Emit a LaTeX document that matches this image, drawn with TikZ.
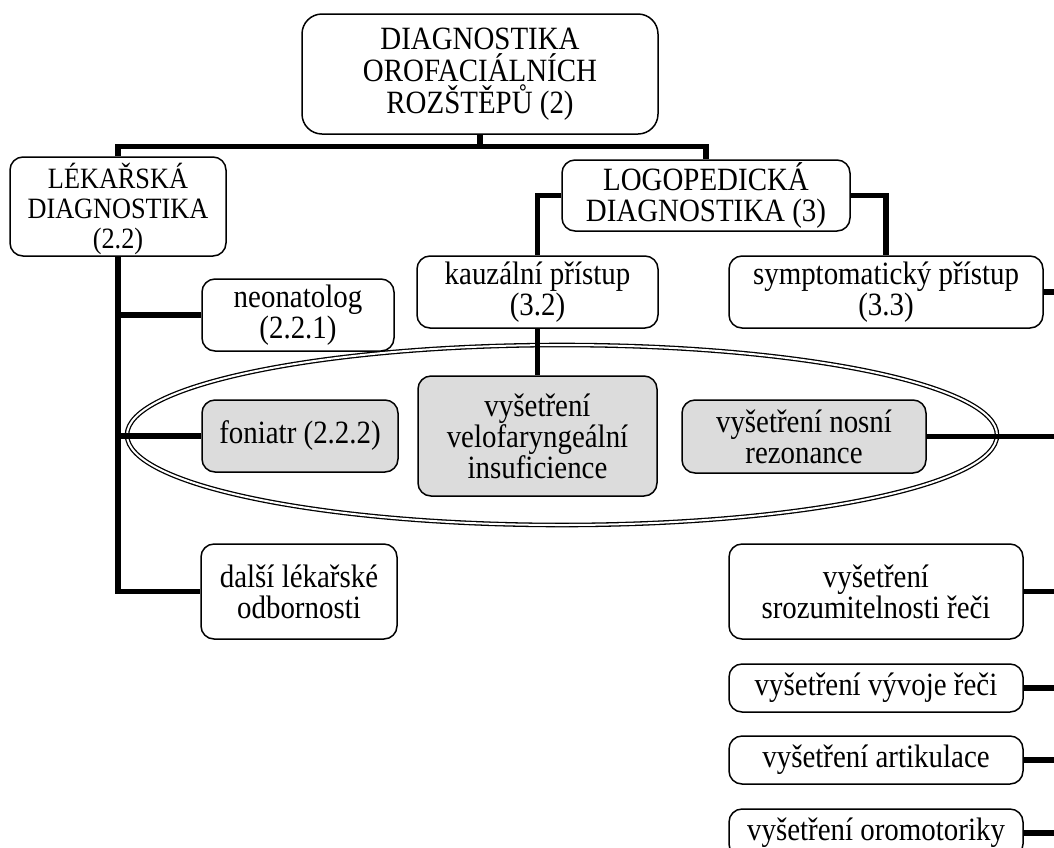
\documentclass[tikz,border=0pt]{standalone}
\usepackage{fontspec}
\setmainfont[FakeStretch=0.89]{Liberation Serif}
\definecolor{boxgrey}{HTML}{DCDCDC}
\begin{document}
\begin{tikzpicture}[x=1pt,y=-1pt,
  box/.style={draw, line width=1.5pt, rounded corners=13pt, align=center,
    inner sep=0pt, fill=white, font=\fontsize{32.5}{31}\selectfont},
  greybox/.style={box, fill=boxgrey},
  txt/.style={align=center, inner sep=0pt},
  conn/.style={line width=5.5pt, line join=miter},
  ring/.style={double, double distance=2pt, line width=1.3pt}
]
\useasboundingbox (0,0) rectangle (1054,847);
\coordinate (edge) at (1066,0);

% group ring around the three examinations
\draw[ring] (562,435) ellipse [x radius=435, y radius=90];

% root
\node[box, rounded corners=20pt, minimum width=356, minimum height=120,
  font=\fontsize{32.5}{32}\selectfont] (root) at (480,74)
  {DIAGNOSTIKA\\OROFACIÁLNÍCH\\ROZŠTĚPŮ (2)};

% medical branch
\node[box, minimum width=216, minimum height=99] (lek) at (118,206.5) {};
\node[txt, font=\fontsize{29.5}{30}\selectfont] (lekt) at (118,209)
  {LÉKAŘSKÁ\\DIAGNOSTIKA\\(2.2)};
\node[box, minimum width=192, minimum height=72] (neo) at (298,315)
  {neonatolog\\(2.2.1)};
\node[greybox, minimum width=196, minimum height=72] (fon) at (300,436)
  {foniatr (2.2.2)};
\node[box, minimum width=196, minimum height=95] (dalsi) at (299,591.5)
  {další lékařské\\odbornosti};

% speech therapy branch
\node[box, minimum width=288, minimum height=71] (logo) at (706,195.5)
  {LOGOPEDICKÁ\\DIAGNOSTIKA (3)};
\node[box, minimum width=241, minimum height=72] (kauz) at (537.5,292)
  {kauzální přístup\\(3.2)};
\node[box, minimum width=314, minimum height=72] (symp) at (886,292)
  {symptomatický přístup\\(3.3)};
\node[greybox, minimum width=239, minimum height=120] (velo) at (537.5,436)
  {vyšetření\\velofaryngeální\\insuficience};
\node[greybox, minimum width=244, minimum height=73] (nos) at (804,436.5)
  {vyšetření nosní\\rezonance};
\node[box, minimum width=294, minimum height=95] (sroz) at (876,591.5)
  {vyšetření\\srozumitelnosti řeči};
\node[box, minimum width=294, minimum height=48] (vyv) at (876,688)
  {vyšetření vývoje řeči};
\node[box, minimum width=294, minimum height=48] (art) at (876,760)
  {vyšetření artikulace};
\node[box, minimum width=294, minimum height=48] (oro) at (876,833)
  {vyšetření oromotoriky};

% connectors
\draw[conn] (root.south) -- ++(0,13);
\draw[conn] (lek.north) -- ++(0,-10) -| (logo.north);
\draw[conn] (lek.south) |- (dalsi.west);
\draw[conn] (lek.south |- neo.west) -- (neo.west);
\draw[conn] (lek.south |- fon.west) -- (fon.west);
\draw[conn] (logo.west) -| (kauz.north);
\draw[conn] (logo.east) -| (symp.north);
\draw[conn] (kauz.south) -- (velo.north);
\draw[conn] (symp.east) -- (symp.east -| edge);
\draw[conn] (nos.east) -- (nos.east -| edge);
\draw[conn] (sroz.east) -- (sroz.east -| edge);
\draw[conn] (vyv.east) -- (vyv.east -| edge);
\draw[conn] (art.east) -- (art.east -| edge);
\draw[conn] (oro.east) -- (oro.east -| edge);
\end{tikzpicture}
\end{document}
